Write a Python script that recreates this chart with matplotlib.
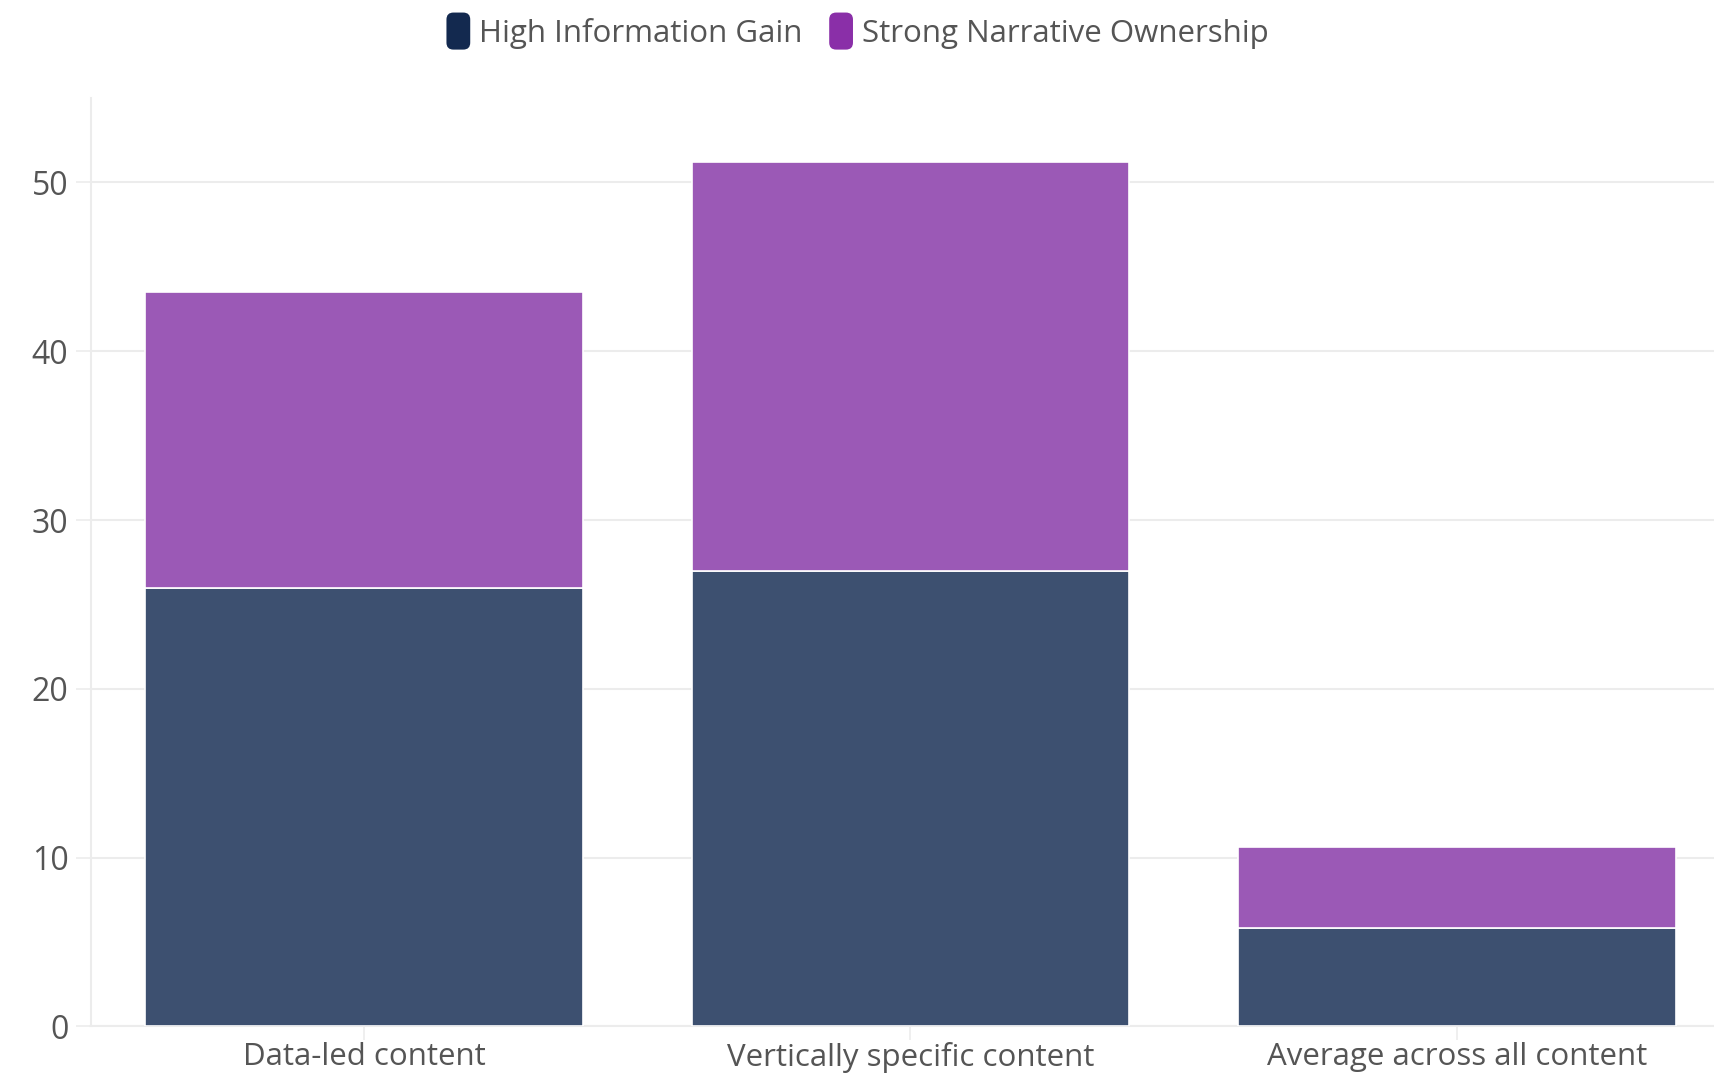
import matplotlib
matplotlib.use("Agg")
import matplotlib.pyplot as plt
import numpy as np
from matplotlib.patches import FancyBboxPatch
from matplotlib.legend_handler import HandlerPatch

categories = ["Data-led content", "Vertically specific content", "Average across all content"]
info_gain = [26.0, 27.0, 5.8]
narrative = [17.5, 24.2, 4.8]
series_names = ["High Information Gain", "Strong Narrative Ownership"]

bar_colors = ["#3d5070", "#9b59b6"]
legend_colors = ["#13294f", "#8a2fa8"]
text_color = "#555555"
grid_color = "#ececec"

plt.rcParams["font.family"] = ["Open Sans", "DejaVu Sans"]

fig = plt.figure(figsize=(17.14, 10.76), dpi=100)
ax = fig.add_axes([0.0529, 0.0461, 0.9566, 0.8628])

x = np.arange(len(categories))
ax.bar(x, info_gain, width=0.8, color=bar_colors[0], edgecolor="white", linewidth=1.2, zorder=3)
ax.bar(x, narrative, width=0.8, bottom=info_gain, color=bar_colors[1], edgecolor="white",
       linewidth=1.2, zorder=3)

ax.set_xlim(-0.5, len(categories) - 0.5)
ax.set_ylim(0, 55)
ax.set_yticks([0, 10, 20, 30, 40, 50])
ax.set_xticks(x, labels=categories)
ax.grid(axis="y", color=grid_color, linewidth=1.5, zorder=0)
ax.tick_params(axis="both", colors=grid_color, labelcolor=text_color, width=1.2)
ax.tick_params(axis="x", length=10, pad=1, labelsize=22.5)
ax.tick_params(axis="y", length=11, pad=5, labelsize=23)
for side in ["top", "right"]:
    ax.spines[side].set_visible(False)
ax.spines["left"].set_color(grid_color)
ax.spines["bottom"].set_color(grid_color)
ax.spines["left"].set_linewidth(1.5)
ax.spines["bottom"].set_linewidth(1.5)


class RoundBox(HandlerPatch):
    def create_artists(self, legend, orig_handle, xdescent, ydescent, width, height, fontsize, trans):
        p = FancyBboxPatch((-xdescent + 1, -ydescent - 4), width - 2, height + 8,
                           boxstyle="round,pad=0,rounding_size=5",
                           facecolor=orig_handle.get_facecolor(), edgecolor="none", transform=trans)
        return [p]


handles = [plt.Rectangle((0, 0), 1, 1, color=c) for c in legend_colors]
fig.legend(handles, series_names, loc="center", bbox_to_anchor=(0.5, 0.969), ncol=2,
           frameon=False, fontsize=22.5, labelcolor=text_color, handlelength=0.85,
           handleheight=0.9, handletextpad=0.25, columnspacing=0.8,
           handler_map={plt.Rectangle: RoundBox()})

fig.savefig("out.png", dpi=100)
